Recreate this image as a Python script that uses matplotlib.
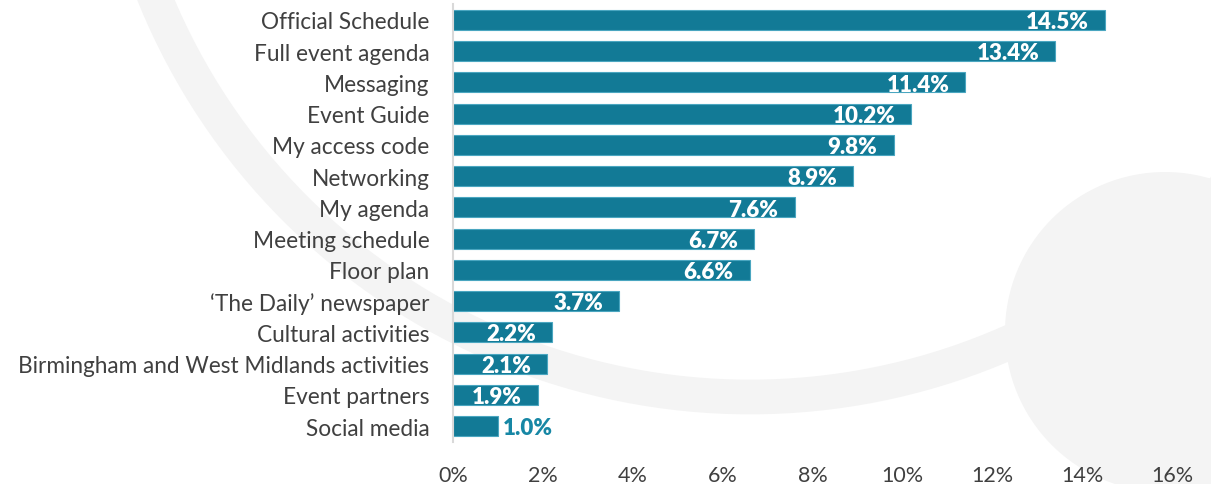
import matplotlib.pyplot as plt
from matplotlib.patches import Circle

# data, top to bottom as shown
categories = ["Official Schedule", "Full event agenda", "Messaging", "Event Guide",
              "My access code", "Networking", "My agenda", "Meeting schedule",
              "Floor plan", "\u2018The Daily\u2019 newspaper", "Cultural activities",
              "Birmingham and West Midlands activities", "Event partners", "Social media"]
values = [14.5, 13.4, 11.4, 10.2, 9.8, 8.9, 7.6, 6.7, 6.6, 3.7, 2.2, 2.1, 1.9, 1.0]
xticks = [0, 2, 4, 6, 8, 10, 12, 14, 16]

plt.rcParams['font.family'] = ['Lato', 'DejaVu Sans']

fig = plt.figure(figsize=(12.11, 4.85), dpi=100)

# decorative background shapes, in pixel coords
bg = fig.add_axes([0, 0, 1, 1], zorder=0)
bg.set_xlim(0, 1211)
bg.set_ylim(485, 0)
bg.axis('off')
bg.add_patch(Circle((750, -245), 643, fill=False, lw=25, ec='#f4f4f4'))
bg.add_patch(Circle((1165, 333), 160, fc='#f4f4f4', ec='none'))

ax = fig.add_axes([0.374, 0.087, 0.594, 0.902], zorder=1)
ax.patch.set_alpha(0)

y = list(range(len(categories)))
bars = ax.barh(y, values, height=0.64, color='#127a96', edgecolor='#4aa6c0', linewidth=0.8)

for yi, v in zip(y, values):
    if v >= 1.5:
        ax.text(v - 0.36, yi + 0.05, f"{v:.1f}%", ha='right', va='center', color='white',
                fontsize=16, fontweight='heavy')
    else:
        ax.text(v + 0.1, yi + 0.05, f"{v:.1f}%", ha='left', va='center', color='#1787a5',
                fontsize=16, fontweight='heavy')

ax.set_xlim(0, 16)
ax.set_ylim(len(categories) - 0.5, -0.5)
ax.set_yticks(y)
ax.set_yticklabels(categories, fontsize=16.3, color='#404040')
ax.set_xticks(xticks)
ax.set_xticklabels([f"{t}%" for t in xticks], fontsize=15.5, color='#404040')
ax.tick_params(axis='y', length=0, pad=17)
ax.tick_params(axis='x', length=0, pad=17)

for s in ['top', 'right', 'bottom']:
    ax.spines[s].set_visible(False)
ax.spines['left'].set_color('#d9d9d9')
ax.spines['left'].set_linewidth(1.5)

fig.savefig('out.png', dpi=100)
